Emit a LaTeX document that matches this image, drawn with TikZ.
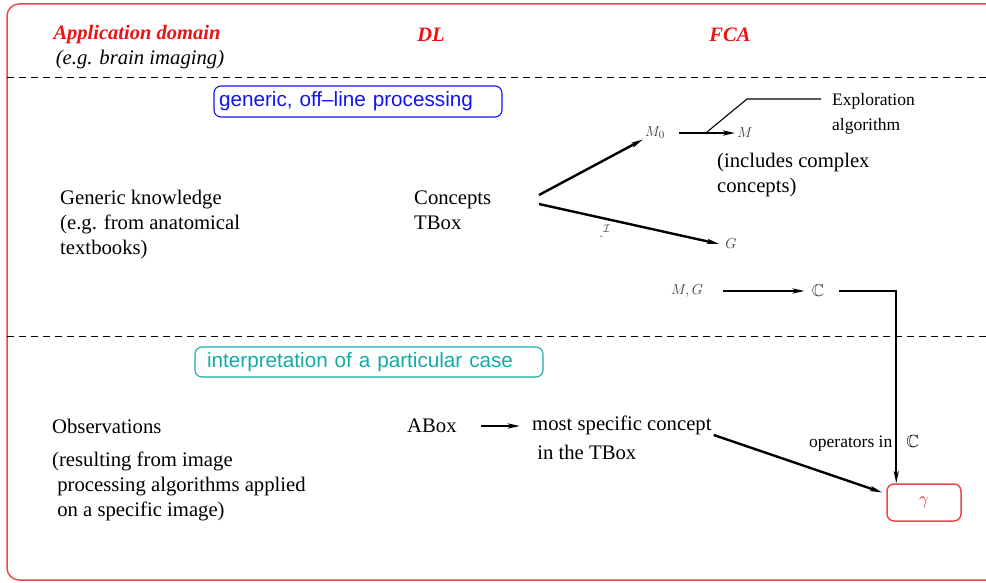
\documentclass[tikz,border=0pt]{standalone}
\usepackage{amssymb}
\usepackage{fontspec}
\setmainfont{Liberation Serif}[ItalicFont={* Italic}, BoldFont={* Bold}, BoldItalicFont={* Bold Italic}]
\setsansfont{Liberation Sans}
\usetikzlibrary{arrows.meta}
\definecolor{framered}{RGB}{240,70,70}
\definecolor{headred}{RGB}{235,20,20}
\definecolor{boxblue}{RGB}{20,20,240}
\definecolor{boxteal}{RGB}{20,170,170}
\definecolor{mathgray}{RGB}{60,60,60}
\tikzset{
  txt/.style={inner sep=0pt, align=left, font=\fontsize{20.7}{25}\selectfont},
  small/.style={inner sep=0pt, align=left, font=\fontsize{17.5}{25}\selectfont},
  head/.style={inner sep=0pt, text=headred, font=\fontsize{20.5}{25}\selectfont\bfseries\itshape},
  mlab/.style={inner sep=2pt, text=mathgray, font=\fontsize{15.5}{17}\selectfont},
  phase/.style={draw, rounded corners=7pt, line width=1.1pt, align=left,
    font=\fontsize{20.7}{25}\selectfont\sffamily},
  arr/.style={line width=2.4pt, -{Stealth[length=12pt,width=5pt,inset=3pt]}},
  sepline/.style={line width=0.9pt, dash pattern=on 7pt off 5pt},
}
\begin{document}
\begin{tikzpicture}[x=1pt,y=-1pt]
\useasboundingbox (0,0) rectangle (986,583);
\fill[white] (0,0) rectangle (986,583);
% outer frame and the two section separators
\draw[framered, line width=1.5pt, rounded corners=12pt] (7,4) rectangle (1010,580);
\draw[sepline] (7,77) -- (986,77);
\draw[sepline] (7,336) -- (986,336);

% column headers
\node[head] (appdom) at (137,35) {Application domain};
\node[txt, font=\fontsize{20.7}{25}\selectfont\itshape] (eg) at (140,60) {(e.g. brain imaging)};
\node[head] (dl) at (431,35) {DL};
\node[head] (fca) at (730,35) {FCA};

% generic part
\node[phase, draw=boxblue, text=boxblue, text width=278pt, inner xsep=5pt,
      minimum height=31pt, inner ysep=0pt] (generic) at (358,101.5) {generic, off--line processing};
\node[txt, anchor=west] (gk) at (60,225) {Generic knowledge\\(e.g. from anatomical\\textbooks)};
\node[txt, anchor=west] (concepts) at (414,210) {Concepts\\TBox};
\node[mlab] (M0) at (655,133) {$M_0$};
\node[mlab] (M) at (745,133) {$M$};
\node[mlab] (G) at (731,244) {$G$};
\node[mlab] (Ilab) at (605,231) {$.^{\mathcal{I}}$};
\node[txt, anchor=west] (incl) at (717,175) {(includes complex\\concepts)};
\node[small, anchor=west] (expl) at (832,114) {Exploration\\algorithm};
\node[mlab] (MG) at (687,291) {$M,G$};
\node[mlab, font=\fontsize{17}{18}\selectfont] (C) at (818,291) {$\mathbb{C}$};

\coordinate (fork1) at (539,195);
\coordinate (fork2) at (539,204);
\coordinate (callout) at (707,132);
\draw[arr] (fork1) -- (M0);
\draw[arr] (fork2) -- ([xshift=-4pt]G.west);
\draw[arr] ([xshift=12pt]M0.east) -- (M.west);
\draw[line width=1.1pt] (callout) -- ++(40,-33) -- ++(74,0);
\draw[arr] ([xshift=18pt]MG.east) -- ([xshift=-5pt]C.west);

% case-specific part
\node[phase, draw=boxteal, text=boxteal, text width=324pt, inner xsep=12pt,
      minimum height=30pt, inner ysep=0pt] (interp) at (369,362) {interpretation of a particular case};
\node[txt, anchor=west] (obs) at (52,426) {Observations};
\node[txt, anchor=west] (res) at (52,486) {(resulting from image\\\hspace*{0.25em}processing algorithms applied\\\hspace*{0.25em}on a specific image)};
\node[txt, anchor=west] (abox) at (407,426) {ABox};
\node[txt, anchor=west, font=\fontsize{20.7}{29}\selectfont] (msc) at (532,438) {most specific concept\\\hspace*{0.25em}in the TBox};
\node[draw=framered, line width=1.5pt, rounded corners=7pt, minimum width=74pt,
      minimum height=37pt, text=headred, font=\fontsize{17}{18}\selectfont] (gamma) at (924,502.5) {$\gamma$};
\node[small, anchor=west] (ops) at (809,443) {operators in\hspace{0.8em}$\mathbb{C}$};

\draw[arr] ([xshift=24pt]abox.east) -- ([xshift=-12pt]msc.west |- abox.east);
\draw[arr] ([xshift=2pt,yshift=3pt]msc.east) -- ([xshift=-4pt,yshift=10pt]gamma.west);
\draw[line width=2pt, -{Stealth[length=12pt,width=5pt,inset=3pt]}]
  ([xshift=13pt]C.east) -| ([xshift=10pt]gamma.north west);
\end{tikzpicture}
\end{document}
